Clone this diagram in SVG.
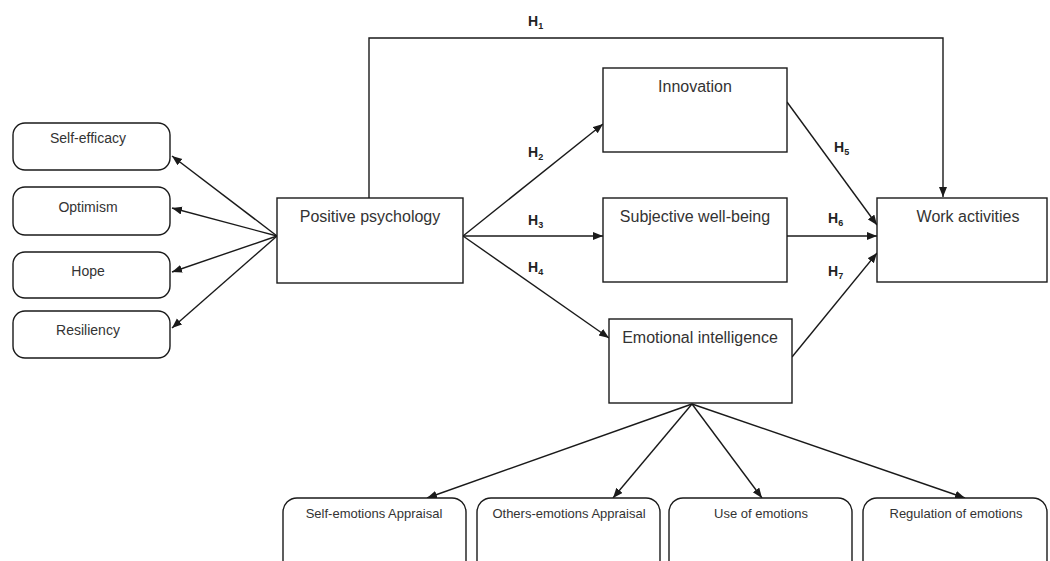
<svg xmlns="http://www.w3.org/2000/svg" width="1050" height="561" viewBox="0 0 1050 561">
<style>
.box{fill:#fff;stroke:#1a1a1a;stroke-width:1.4}
.ln{fill:none;stroke:#1a1a1a;stroke-width:1.4}
.t{font-family:"Liberation Sans",Arial,sans-serif;fill:#333;text-anchor:middle}
.c{font-size:16px}
.l{font-size:14px}
.b{font-size:13px}
.h{font-family:"Liberation Sans",Arial,sans-serif;font-size:14px;font-weight:bold;fill:#222}
.s{font-size:9px}
</style>
<defs>
<marker id="ah" markerUnits="userSpaceOnUse" markerWidth="11" markerHeight="9" refX="10" refY="4" orient="auto">
<path d="M0,0 L10,4 L0,8 z" fill="#1a1a1a"/>
</marker>
</defs>
<rect width="1050" height="561" fill="#fff"/>
<g id="connectors">
<path class="ln" d="M369,198 V38 H943 V197" marker-end="url(#ah)"/>
<line class="ln" x1="277" y1="236" x2="172" y2="156" marker-end="url(#ah)"/>
<line class="ln" x1="277" y1="236" x2="172" y2="208" marker-end="url(#ah)"/>
<line class="ln" x1="277" y1="236" x2="172" y2="272" marker-end="url(#ah)"/>
<line class="ln" x1="277" y1="236" x2="172" y2="328" marker-end="url(#ah)"/>
<line class="ln" x1="463" y1="236" x2="603" y2="124" marker-end="url(#ah)"/>
<line class="ln" x1="463" y1="236" x2="603" y2="236" marker-end="url(#ah)"/>
<line class="ln" x1="463" y1="236" x2="609" y2="338" marker-end="url(#ah)"/>
<line class="ln" x1="787" y1="102" x2="877" y2="225" marker-end="url(#ah)"/>
<line class="ln" x1="787" y1="236" x2="877" y2="236" marker-end="url(#ah)"/>
<line class="ln" x1="792" y1="357" x2="877" y2="253" marker-end="url(#ah)"/>
<line class="ln" x1="692" y1="404" x2="427" y2="498" marker-end="url(#ah)"/>
<line class="ln" x1="692" y1="404" x2="613" y2="498" marker-end="url(#ah)"/>
<line class="ln" x1="692" y1="404" x2="762" y2="498" marker-end="url(#ah)"/>
<line class="ln" x1="692" y1="404" x2="965" y2="498" marker-end="url(#ah)"/>
<text class="h" x="528" y="26">H<tspan class="s" dy="3">1</tspan></text>
<text class="h" x="528" y="157">H<tspan class="s" dy="3">2</tspan></text>
<text class="h" x="528" y="225">H<tspan class="s" dy="3">3</tspan></text>
<text class="h" x="528" y="272">H<tspan class="s" dy="3">4</tspan></text>
<text class="h" x="834" y="152">H<tspan class="s" dy="3">5</tspan></text>
<text class="h" x="828" y="223">H<tspan class="s" dy="3">6</tspan></text>
<text class="h" x="828" y="276">H<tspan class="s" dy="3">7</tspan></text>
</g>
<g id="self-efficacy"><rect class="box" x="13" y="123" width="157" height="47" rx="12"/><text class="t l" x="88" y="143">Self-efficacy</text></g>
<g id="optimism"><rect class="box" x="13" y="187" width="157" height="48" rx="12"/><text class="t l" x="88" y="212">Optimism</text></g>
<g id="hope"><rect class="box" x="13" y="252" width="157" height="46" rx="12"/><text class="t l" x="88" y="276">Hope</text></g>
<g id="resiliency"><rect class="box" x="13" y="311" width="157" height="47" rx="12"/><text class="t l" x="88" y="335">Resiliency</text></g>
<g id="positive-psychology"><rect class="box" x="277" y="198" width="186" height="85"/><text class="t c" x="370" y="222">Positive psychology</text></g>
<g id="innovation"><rect class="box" x="603" y="68" width="184" height="84"/><text class="t c" x="695" y="92">Innovation</text></g>
<g id="subjective-well-being"><rect class="box" x="603" y="198" width="184" height="84"/><text class="t c" x="695" y="222">Subjective well-being</text></g>
<g id="emotional-intelligence"><rect class="box" x="609" y="319" width="183" height="84"/><text class="t c" x="700" y="343">Emotional intelligence</text></g>
<g id="work-activities"><rect class="box" x="877" y="198" width="170" height="84"/><text class="t c" x="968" y="222">Work activities</text></g>
<g id="self-emotions-appraisal"><rect class="box" x="283" y="498" width="183" height="80" rx="14"/><text class="t b" x="374" y="518">Self-emotions Appraisal</text></g>
<g id="others-emotions-appraisal"><rect class="box" x="477" y="498" width="183" height="80" rx="14"/><text class="t b" x="569" y="518">Others-emotions Appraisal</text></g>
<g id="use-of-emotions"><rect class="box" x="669" y="498" width="183" height="80" rx="14"/><text class="t b" x="761" y="518">Use of emotions</text></g>
<g id="regulation-of-emotions"><rect class="box" x="863" y="498" width="184" height="80" rx="14"/><text class="t b" x="956" y="518">Regulation of emotions</text></g>
</svg>
